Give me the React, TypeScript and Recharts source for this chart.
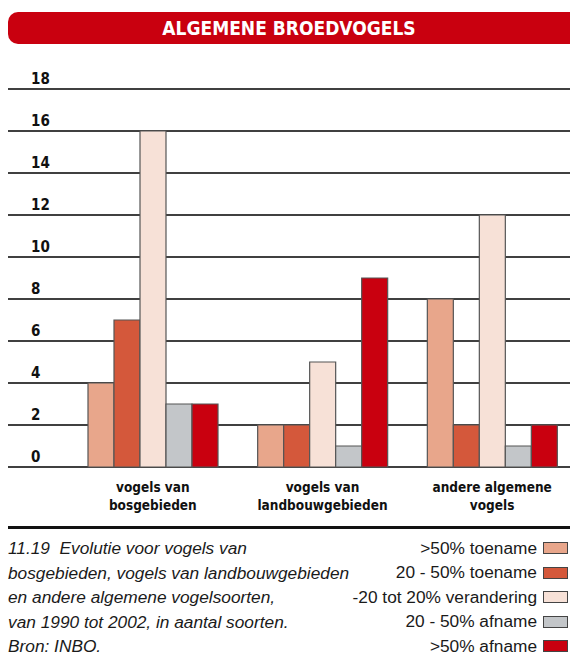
import { BarChart, Bar, XAxis, YAxis, CartesianGrid } from 'recharts';

const categories = [
  ['vogels van', 'bosgebieden'],
  ['vogels van', 'landbouwgebieden'],
  ['andere algemene', 'vogels'],
];

const seriesNames = [
  '>50% toename',
  '20 - 50% toename',
  '-20 tot 20% verandering',
  '20 - 50% afname',
  '>50% afname',
];

const seriesColors = ['#e8a68b', '#d4583b', '#f7e1d7', '#c3c6c9', '#c9000f'];

const toenameSterk = [4, 2, 8];
const toename = [7, 2, 2];
const stabiel = [16, 5, 12];
const afname = [3, 1, 1];
const afnameSterk = [3, 9, 2];

const yTicks = [0, 2, 4, 6, 8, 10, 12, 14, 16, 18];

const captionLines = [
  '11.19  Evolutie voor vogels van',
  'bosgebieden, vogels van landbouwgebieden',
  'en andere algemene vogelsoorten,',
  'van 1990 tot 2002, in aantal soorten.',
  'Bron: INBO.',
];

const seriesValues = [toenameSterk, toename, stabiel, afname, afnameSterk];

const data = categories.map((lines, i) => {
  const row: Record<string, any> = { name: lines.join(' ') };
  seriesNames.forEach((s, j) => {
    row[s] = seriesValues[j][i];
  });
  return row;
});

const narrow = '"Liberation Sans Narrow", "DejaVu Sans Condensed", Arial, sans-serif';
const body = '"Liberation Sans", Arial, sans-serif';

function YTick(props: any) {
  const { y, payload } = props;
  return (
    <text x={31} y={y - 5} fontSize={15} fontWeight="bold" fontFamily={narrow} fill="#111">
      {payload.value}
    </text>
  );
}

function XTick(props: any) {
  const { x, y, index } = props;
  const lines = categories[index] || [];
  return (
    <text x={x} y={y} textAnchor="middle" fontSize={13.5} fontWeight="bold" fontFamily={narrow} fill="#111">
      {lines.map((l, i) => (
        <tspan key={i} x={x} dy={i === 0 ? 17 : 18}>
          {l}
        </tspan>
      ))}
    </text>
  );
}

export default function App() {
  return (
    <div
      style={{
        position: 'absolute',
        left: 0,
        top: 0,
        width: 570,
        height: 662,
        overflow: 'hidden',
        background: '#fff',
        fontFamily: body,
      }}
    >
      <div
        style={{
          position: 'absolute',
          left: 8,
          top: 12,
          width: 580,
          height: 32,
          background: '#c9000f',
          borderRadius: 10,
        }}
      />
      <div
        style={{
          position: 'absolute',
          left: 8,
          top: 12,
          width: 562,
          height: 32,
          lineHeight: '32px',
          textAlign: 'center',
          color: '#fff',
          fontWeight: 'bold',
          fontSize: 19,
          fontFamily: narrow,
        }}
      >
        ALGEMENE BROEDVOGELS
      </div>

      <div style={{ position: 'absolute', left: 0, top: 60 }}>
        <BarChart
          width={577}
          height={480}
          data={data}
          margin={{ top: 29, right: 0, bottom: 0, left: 7 }}
          barCategoryGap={20}
          barGap={0}
        >
          <CartesianGrid vertical={false} stroke="#000" strokeWidth={1.5} />
          <YAxis
            domain={[0, 18]}
            ticks={yTicks}
            width={1}
            axisLine={false}
            tickLine={false}
            tick={YTick}
            interval={0}
          />
          <XAxis
            dataKey="name"
            padding={{ left: 60, right: 0 }}
            axisLine={false}
            tickLine={false}
            tick={<XTick />}
            height={73}
            interval={0}
          />
          {seriesNames.map((s, j) => (
            <Bar
              key={s}
              dataKey={s}
              fill={seriesColors[j]}
              stroke="#555"
              strokeWidth={1.2}
              isAnimationActive={false}
            />
          ))}
        </BarChart>
      </div>

      <div
        style={{
          position: 'absolute',
          left: 8,
          top: 526,
          width: 562,
          height: 3,
          background: '#111',
        }}
      />

      <div style={{ position: 'absolute', left: 8, top: 536 }}>
        {captionLines.map((l, i) => (
          <div
            key={i}
            style={{
              height: 24.5,
              lineHeight: '24.5px',
              fontSize: 17.3,
              fontStyle: 'italic',
              color: '#1a1a1a',
              whiteSpace: 'pre',
            }}
          >
            {l}
          </div>
        ))}
      </div>

      <div style={{ position: 'absolute', right: 2, top: 536 }}>
        {seriesNames.map((s, j) => (
          <div
            key={s}
            style={{
              height: 24.5,
              display: 'flex',
              alignItems: 'center',
              justifyContent: 'flex-end',
              fontSize: 17.3,
              color: '#1a1a1a',
            }}
          >
            <span>{s}</span>
            <span
              style={{
                display: 'inline-block',
                width: 23,
                height: 10,
                marginLeft: 6,
                background: seriesColors[j],
                border: '1px solid #444',
              }}
            />
          </div>
        ))}
      </div>
    </div>
  );
}
